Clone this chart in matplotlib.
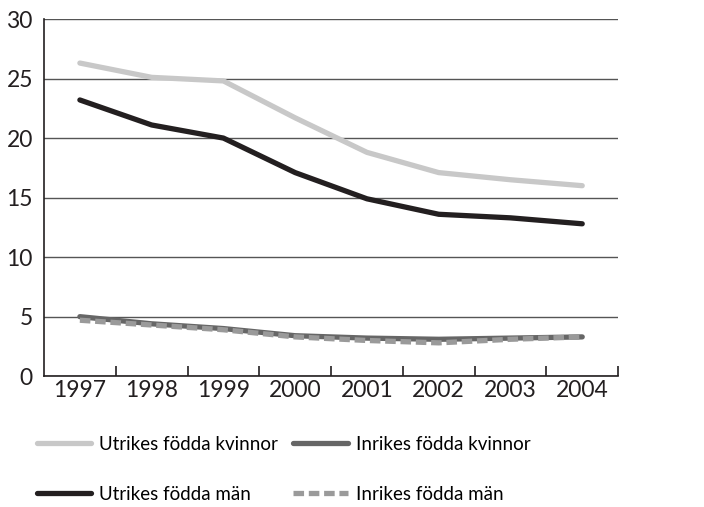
import numpy as np
import matplotlib
matplotlib.use("Agg")
import matplotlib.pyplot as plt

years = ["1997", "1998", "1999", "2000", "2001", "2002", "2003", "2004"]
utrikes_kvinnor = [26.3, 25.1, 24.8, 21.7, 18.8, 17.1, 16.5, 16.0]
utrikes_man = [23.2, 21.1, 20.0, 17.1, 14.9, 13.6, 13.3, 12.8]
inrikes_kvinnor = [5.0, 4.4, 4.0, 3.4, 3.2, 3.1, 3.2, 3.3]
inrikes_man = [4.7, 4.3, 3.9, 3.3, 3.0, 2.8, 3.1, 3.3]
yticks = [0, 5, 10, 15, 20, 25, 30]

plt.rcParams['font.family'] = ['Lato', 'DejaVu Sans']

fig = plt.figure(figsize=(7.04, 5.07), dpi=100)
ax = fig.add_axes([0.0625, 0.258, 0.8155, 0.7045])

x = np.arange(len(years))
l1, = ax.plot(x, utrikes_kvinnor, color='#c8c8c8', lw=3.8, solid_capstyle='round', label='Utrikes födda kvinnor')
l2, = ax.plot(x, utrikes_man, color='#231f20', lw=3.8, solid_capstyle='round', label='Utrikes födda män')
l3, = ax.plot(x, inrikes_kvinnor, color='#666666', lw=3.8, solid_capstyle='round', label='Inrikes födda kvinnor')
l4, = ax.plot(x, inrikes_man, color='#9a9a9a', lw=3.8, ls=(0, (2.0, 0.9)), dash_capstyle='butt', label='Inrikes födda män')

ax.set_xlim(-0.5, len(years) - 0.5)
ax.set_ylim(0, 30)
ax.set_yticks(yticks)
ax.set_yticklabels([str(v) for v in yticks])
ax.yaxis.grid(True, color='#555555', lw=1)
ax.set_axisbelow(True)
ax.tick_params(axis='y', length=0, pad=8, labelsize=16.5, colors='#231f20')

ax.set_xticks(x)
ax.set_xticklabels(years)
ax.set_xticks(np.arange(0.5, len(years) + 0.5, 1.0), minor=True)
ax.tick_params(axis='x', which='major', length=0, pad=3, labelsize=16.5, colors='#231f20')
ax.tick_params(axis='x', which='minor', direction='in', length=7, width=1.2, color='#231f20')

ax.spines['right'].set_visible(False)
ax.spines['top'].set_visible(False)
ax.spines['left'].set_color('#231f20')
ax.spines['bottom'].set_color('#231f20')
ax.spines['left'].set_linewidth(1.2)
ax.spines['bottom'].set_linewidth(1.2)

fig.legend(handles=[l1, l2, l3, l4], ncol=2, loc='lower left', bbox_to_anchor=(0.028, -0.025),
           frameon=False, fontsize=13.5, handlelength=2.9, labelspacing=1.75, columnspacing=0.8,
           handletextpad=0.45)

fig.savefig("out.png", dpi=100)
